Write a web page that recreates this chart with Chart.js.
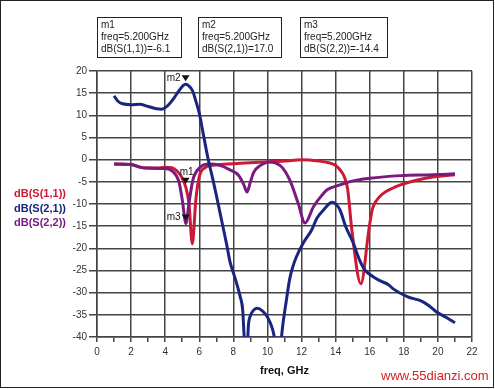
<!DOCTYPE html>
<html>
<head>
<meta charset="utf-8">
<script src="https://cdn.jsdelivr.net/npm/chart.js@4"></script>
<style>
  body { margin: 0; background: #fff; font-family: "Liberation Sans", Arial, sans-serif; }
  #wrap { position: relative; width: 495px; height: 389px; }
  #frame { position: absolute; left: 0; top: 0; width: 492px; height: 386px; border: 1px solid #222; pointer-events: none; }
  canvas { position: absolute; left: 0; top: 0; }
  .mbox { position: absolute; top: 17px; height: 38px; border: 1px solid #222; font-size: 10px; line-height: 12px; color: #222; padding: 1px 0 0 3px; box-sizing: content-box; }
  #legend { position: absolute; left: 0; width: 66px; top: 186px; text-align: right; font-size: 11px; font-weight: bold; line-height: 14.5px; }
  #mark { position: absolute; left: 381px; top: 368px; font-size: 13px; color: #d42020; }
</style>
</head>
<body>
<div id="wrap">
  <canvas id="chart" width="495" height="389"></canvas>
  <div class="mbox" style="left:97px;width:80px;">m1<br>freq=5.200GHz<br>dB(S(1,1))=-6.1</div>
  <div class="mbox" style="left:198px;width:79px;">m2<br>freq=5.200GHz<br>dB(S(2,1))=17.0</div>
  <div class="mbox" style="left:300px;width:83px;">m3<br>freq=5.200GHz<br>dB(S(2,2))=-14.4</div>
  <div id="legend">
    <div style="color:#cc1a35">dB(S(1,1))</div>
    <div style="color:#1a2580">dB(S(2,1))</div>
    <div style="color:#7a1a80">dB(S(2,2))</div>
  </div>
  <div id="mark">www.55dianzi.com</div>
  <div id="frame"></div>
</div>
<script>
// S(1,1)
const s11Freq = [1.0, 2.0, 2.7, 3.5, 4.0, 4.4, 4.7, 4.95, 5.2, 5.4, 5.59, 5.8, 6.0, 6.3, 6.9, 8.0, 9.0, 10.0, 11.0, 12.0, 13.0, 13.7, 14.0, 14.3, 14.5, 14.7, 14.95, 15.48, 15.95, 16.15, 16.4, 16.8, 17.3, 17.8, 18.8, 19.7, 20.5, 21.0];
const s11Db   = [-1.0, -1.1, -1.8, -1.9, -1.7, -1.8, -2.6, -3.8, -6.1, -10, -19, -9, -3.8, -1.9, -1.2, -0.9, -0.7, -0.5, -0.3, 0, -0.3, -0.8, -1.3, -2.5, -3.8, -6.5, -15.8, -28, -15.8, -11.2, -9.2, -7.6, -6.5, -5.7, -4.6, -3.9, -3.6, -3.4];

// S(2,1)
const s21Freq = [1.0, 1.2, 1.5, 2.0, 2.5, 3.0, 3.5, 3.8, 4.1, 4.5, 4.8, 5.05, 5.2, 5.4, 5.6, 5.8, 6.0, 6.2, 6.5, 6.8, 7.0, 7.3, 7.6, 7.8, 8.0, 8.2, 8.4, 8.55, 8.62, 8.7, 8.8, 8.88, 9.0, 9.2, 9.4, 9.7, 10.0, 10.3, 10.45, 10.6, 10.75, 10.85, 11.1, 11.3, 11.5, 11.7, 12.1, 12.6, 12.9, 13.3, 13.6, 13.8, 14.0, 14.25, 14.6, 15.0, 15.4, 15.7, 16.2, 16.6, 17.1, 17.4, 18.2, 19.1, 19.5, 19.9, 20.5, 21.0];
const s21Db   = [14.4, 13.3, 12.6, 12.4, 12.5, 12.0, 11.5, 11.4, 12.0, 13.8, 15.5, 16.7, 17.0, 16.6, 15.6, 13.2, 10.5, 6.5, 0.5, -4.5, -8, -13.5, -19, -23, -25.5, -28, -30.9, -34, -39, -44, -44, -37.5, -35.2, -33.9, -33.5, -34.1, -35.5, -38.3, -41, -45, -44, -39, -32, -27, -24, -21.9, -18.8, -15.8, -13.2, -11.3, -10.0, -9.6, -10.0, -11.3, -15.2, -18.5, -22.6, -24.8, -26.4, -27.3, -28.2, -29.2, -30.9, -32.0, -33.0, -34.3, -35.6, -36.8];

// S(2,2)
const s22Freq = [1.0, 1.5, 2.0, 2.6, 3.0, 3.9, 4.46, 4.8, 5.0, 5.22, 5.4, 5.63, 6.0, 6.6, 7.2, 7.8, 8.3, 8.6, 8.8, 9.0, 9.2, 9.55, 10.1, 10.5, 10.9, 11.3, 11.8, 12.2, 12.7, 13.2, 13.5, 14.25, 14.8, 16.0, 17.8, 19.7, 21.0];
const s22Db   = [-1.0, -1.0, -1.1, -1.8, -1.9, -2.0, -2.7, -4.9, -9, -14.4, -9.7, -4.5, -1.9, -1.0, -1.3, -2.3, -3.5, -5.5, -7.3, -5, -2.8, -1.4, -0.5, -0.8, -1.9, -4.5, -9.8, -14.3, -10.6, -8, -6.8, -5.7, -5.0, -4.2, -3.6, -3.4, -3.2];

// markers
const markerNames = ['m1', 'm2', 'm3'];
const markerFreq  = [5.2, 5.2, 5.2];
const markerDb    = [-6.1, 17.0, -14.4];

const xTicks = { min: 0, max: 22, step: 1 };
const yTicks = { min: -40, max: 20, step: 5 };

const pts = (xs, ys) => xs.map((x, i) => ({ x: x, y: ys[i] }));

const markerPlugin = {
    id: 'markers',
    afterDatasetsDraw(chart) {
        const ctx = chart.ctx;
        const xs = chart.scales.x, ys = chart.scales.y;
        ctx.save();
        ctx.font = '10px "Liberation Sans", Arial, sans-serif';
        ctx.fillStyle = '#111';
        markerNames.forEach((name, i) => {
            const px = xs.getPixelForValue(markerFreq[i]);
            const py = ys.getPixelForValue(markerDb[i]);
            ctx.beginPath();
            ctx.moveTo(px - 4, py - 9);
            ctx.lineTo(px + 4, py - 9);
            ctx.lineTo(px, py - 3);
            ctx.closePath();
            ctx.fill();
            ctx.textBaseline = 'middle';
            if (name === 'm1') {
                ctx.textAlign = 'center';
                ctx.fillText(name, px + 1, py - 14);
            } else {
                ctx.textAlign = 'right';
                ctx.fillText(name, px - 5, py - 6);
            }
        });
        ctx.restore();
    }
};

const gridCol = '#444';

// dataset 0 is drawn on top
new Chart(document.getElementById('chart'), {
    type: 'line',
    data: {
        datasets: [
            { label: 'dB(S(2,1))', data: pts(s21Freq, s21Db), borderColor: '#1a2580' },
            { label: 'dB(S(2,2))', data: pts(s22Freq, s22Db), borderColor: '#7a1a80' },
            { label: 'dB(S(1,1))', data: pts(s11Freq, s11Db), borderColor: '#cc1a35' }
        ]
    },
    options: {
        responsive: false,
        animation: false,
        layout: { padding: { left: 57, top: 71, right: 23, bottom: 0 } },
        datasets: {
            line: { borderWidth: 3, pointRadius: 0, cubicInterpolationMode: 'monotone', fill: false }
        },
        plugins: { legend: { display: false }, tooltip: { enabled: false } },
        scales: {
            x: {
                type: 'linear',
                min: xTicks.min, max: xTicks.max,
                afterFit: s => { s.height = 52; },
                ticks: {
                    stepSize: xTicks.step,
                    autoSkip: false,
                    maxRotation: 0,
                    padding: 4,
                    color: '#333',
                    font: { family: '"Liberation Sans", Arial, sans-serif', size: 10 },
                    callback: v => (v % 2 === 0 ? v : '')
                },
                grid: {
                    color: c => (c.tick && c.tick.value % 2 === 0 ? gridCol : 'transparent'),
                    tickColor: gridCol,
                    tickLength: 5,
                    lineWidth: 1.5
                },
                border: { color: gridCol, width: 1.5 },
                title: {
                    display: true,
                    text: 'freq, GHz',
                    color: '#111',
                    font: { family: '"Liberation Sans", Arial, sans-serif', size: 11, weight: 'bold' },
                    padding: { top: 0, bottom: 11 }
                }
            },
            y: {
                min: yTicks.min, max: yTicks.max,
                afterFit: s => { s.width = 40; },
                ticks: {
                    stepSize: yTicks.step,
                    padding: 2,
                    color: '#333',
                    font: { family: '"Liberation Sans", Arial, sans-serif', size: 10 }
                },
                grid: { color: gridCol, tickLength: 8, lineWidth: 1.5 },
                border: { color: gridCol, width: 1.5 }
            }
        }
    },
    plugins: [markerPlugin]
});
</script>
</body>
</html>
